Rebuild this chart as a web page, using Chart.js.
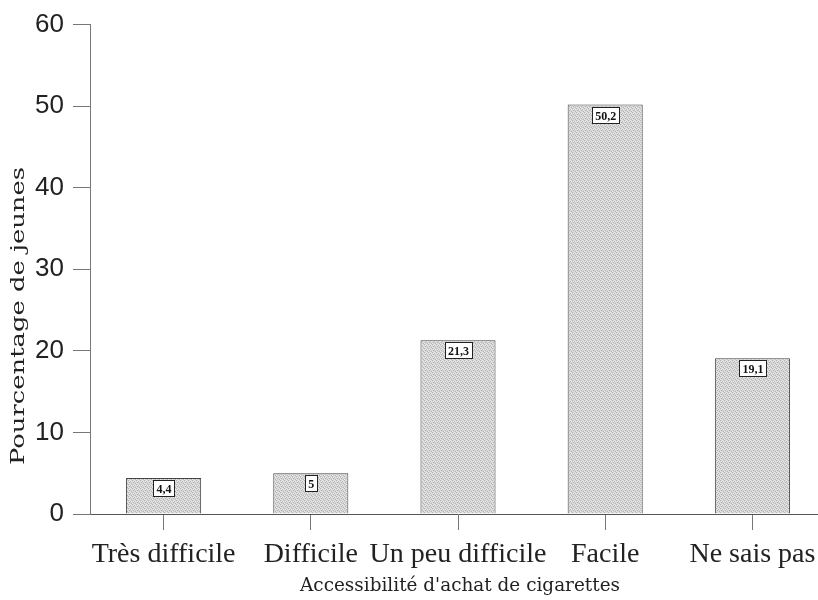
<!DOCTYPE html>
<html>
<head>
<meta charset="utf-8">
<script src="https://cdn.jsdelivr.net/npm/chart.js@4.4.1/dist/chart.umd.min.js"></script>
<style>
  html, body { margin: 0; padding: 0; background: #fff; }
  #wrap { width: 818px; height: 600px; overflow: hidden; }
  #box { width: 830px; height: 600px; }
</style>
</head>
<body>
<div id="wrap"><div id="box"><canvas id="chart"></canvas></div></div>
<script>
// --- DATA ---
const categories = ['Très difficile', 'Difficile', 'Un peu difficile', 'Facile', 'Ne sais pas'];
const percentages = [4.4, 5, 21.3, 50.2, 19.1];
const valueLabels = ['4,4', '5', '21,3', '50,2', '19,1'];
const yTicks = [0, 10, 20, 30, 40, 50, 60];
const yTitle = 'Pourcentage de jeunes';
const xTitle = "Accessibilité d'achat de cigarettes";

// grey stipple fill, like the scanned print
function stipple() {
    const c = document.createElement('canvas');
    c.width = 4; c.height = 4;
    const g = c.getContext('2d');
    g.fillStyle = '#d6d6d6';
    g.fillRect(0, 0, 4, 4);
    g.fillStyle = '#b4b4b4';
    [[0, 0], [2, 1], [1, 2], [3, 3]].forEach(p => g.fillRect(p[0], p[1], 1, 1));
    g.fillStyle = '#e8e8e8';
    [[2, 0], [0, 3], [3, 1], [1, 1]].forEach(p => g.fillRect(p[0], p[1], 1, 1));
    return g.createPattern(c, 'repeat');
}

// small white boxes with the value, near the top of each bar
const valueBoxes = {
    id: 'valueBoxes',
    afterDatasetsDraw(chart) {
        const ctx = chart.ctx;
        const meta = chart.getDatasetMeta(0);
        ctx.save();
        ctx.font = 'bold 12px "Liberation Serif", serif';
        ctx.textAlign = 'center';
        ctx.textBaseline = 'middle';
        meta.data.forEach((bar, i) => {
            const txt = valueLabels[i];
            const w = Math.round(ctx.measureText(txt).width + 6);
            const h = 16;
            const x = Math.round(bar.x - w / 2);
            const y = Math.round(bar.y + 2);
            ctx.fillStyle = '#fff';
            ctx.fillRect(x, y, w, h);
            ctx.strokeStyle = '#222';
            ctx.lineWidth = 1;
            ctx.strokeRect(x + 0.5, y + 0.5, w, h);
            ctx.fillStyle = '#111';
            ctx.fillText(txt, bar.x + 0.5, y + h / 2 + 1.5);
        });
        ctx.restore();
    }
};

// text stretched along its own direction to a given length
function drawFitted(ctx, txt, length) {
    const w = ctx.measureText(txt).width;
    ctx.scale(length / w, 1);
    ctx.fillText(txt, 0, 0);
}

// axis titles placed like the original
const axisTitles = {
    id: 'axisTitles',
    afterDraw(chart) {
        const ctx = chart.ctx;
        ctx.fillStyle = '#222';
        ctx.textAlign = 'center';
        ctx.textBaseline = 'middle';
        ctx.font = '18px "DejaVu Serif", serif';
        ctx.save();
        ctx.translate(460, 586);
        drawFitted(ctx, xTitle, 320);
        ctx.restore();
        ctx.save();
        ctx.translate(19, 316);
        ctx.rotate(-Math.PI / 2);
        drawFitted(ctx, yTitle, 298);
        ctx.restore();
    }
};

new Chart(document.getElementById('chart'), {
    type: 'bar',
    data: {
        labels: categories,
        datasets: [{
            data: percentages,
            backgroundColor: stipple(),
            borderColor: '#444',
            borderWidth: 1,
            borderSkipped: 'bottom',
            barPercentage: 0.51,
            categoryPercentage: 1
        }]
    },
    options: {
        responsive: true,
        maintainAspectRatio: false,
        animation: false,
        layout: { padding: { top: 24, right: 4, left: 0, bottom: 0 } },
        plugins: { legend: { display: false }, tooltip: { enabled: false } },
        scales: {
            x: {
                grid: { offset: false, drawOnChartArea: false, tickLength: 16, color: '#777' },
                border: { color: '#555' },
                ticks: {
                    color: '#222',
                    padding: 8,
                    maxRotation: 0,
                    autoSkip: false,
                    font: { family: '"Liberation Serif", serif', size: 28 }
                },
                afterFit(scale) { scale.height = 86; }
            },
            y: {
                min: 0,
                max: 60,
                afterBuildTicks(scale) { scale.ticks = yTicks.map(v => ({ value: v })); },
                grid: { drawOnChartArea: false, tickLength: 17, color: '#777' },
                border: { color: '#777' },
                ticks: {
                    color: '#222',
                    padding: 9,
                    font: { family: '"Liberation Sans", Arial, sans-serif', size: 26 }
                },
                afterFit(scale) { scale.width = 90; }
            }
        }
    },
    plugins: [valueBoxes, axisTitles]
});
</script>
</body>
</html>
